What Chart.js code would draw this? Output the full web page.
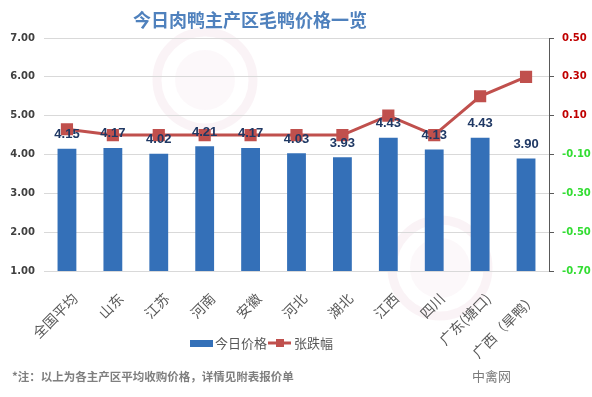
<!DOCTYPE html>
<html><head><meta charset="utf-8">
<script src="https://cdn.jsdelivr.net/npm/chart.js@4"></script>
<style>html,body{margin:0;padding:0;background:#fff}#wrap{width:592px;height:397px;position:relative}</style>
</head><body><div id="wrap"><canvas id="c" width="592" height="397"></canvas></div>
<script>
const categories = ['全国平均','山东','江苏','河南','安徽','河北','湖北','江西','四川','广东(塘口)','广西（旱鸭）'];
const prices = [4.15, 4.17, 4.02, 4.21, 4.17, 4.03, 3.93, 4.43, 4.13, 4.43, 3.90];
const changes = [0.03, 0.00, 0.00, 0.00, 0.00, 0.00, 0.00, 0.10, 0.00, 0.20, 0.30];
const seriesNames = ['今日价格', '张跌幅'];
const titleText = '今日肉鸭主产区毛鸭价格一览';
const noteText = '*注：以上为各主产区平均收购价格，详情见附表报价单';
const brandText = '中禽网';

const CJK = '"Noto Sans CJK SC", "Noto Sans", sans-serif';
const NUM = '"DejaVu Sans", Verdana, sans-serif';
const LAB = '"Liberation Sans", Arial, sans-serif';
const BLUE = '#3470b8';
const RED = '#c0504d';

const decor = {
  id: 'decor',
  beforeDraw(chart) {
    const ctx = chart.ctx;
    ctx.save();
    [[205, 80], [440, 268]].forEach(([cx, cy]) => {
      ctx.beginPath();
      ctx.arc(cx, cy, 48, 0, Math.PI * 2);
      ctx.strokeStyle = 'rgba(210,160,180,0.12)';
      ctx.lineWidth = 9;
      ctx.stroke();
      ctx.beginPath();
      ctx.arc(cx, cy, 30, 0, Math.PI * 2);
      ctx.fillStyle = 'rgba(210,160,180,0.07)';
      ctx.fill();
    });
    ctx.restore();
  },
  afterDraw(chart) {
    const ctx = chart.ctx;
    ctx.save();
    ctx.font = 'bold 18px ' + CJK;
    ctx.fillStyle = '#4f81bd';
    ctx.textAlign = 'center';
    ctx.textBaseline = 'middle';
    ctx.fillText(titleText, 250, 20);
    const meta = chart.getDatasetMeta(0);
    ctx.font = 'bold 13px ' + LAB;
    ctx.fillStyle = '#1f3864';
    meta.data.forEach((bar, i) => {
      ctx.fillText(prices[i].toFixed(2), bar.x, bar.y - 14);
    });
    const ly = 343;
    ctx.fillStyle = BLUE;
    ctx.fillRect(190, ly - 3, 23, 7);
    ctx.font = '13px ' + CJK;
    ctx.fillStyle = '#595959';
    ctx.textAlign = 'left';
    ctx.fillText(seriesNames[0], 215, ly);
    ctx.strokeStyle = RED;
    ctx.lineWidth = 3;
    ctx.beginPath(); ctx.moveTo(268, ly); ctx.lineTo(291, ly); ctx.stroke();
    ctx.fillStyle = RED;
    ctx.fillRect(276, ly - 4, 8, 8);
    ctx.fillStyle = '#595959';
    ctx.fillText(seriesNames[1], 294, ly);
    ctx.font = 'bold 11.5px ' + CJK;
    ctx.fillStyle = '#7f7f7f';
    ctx.fillText(noteText, 12, 377);
    ctx.font = '13px ' + CJK;
    ctx.fillStyle = '#7a7a7a';
    ctx.fillText(brandText, 472, 376);
    ctx.restore();
  }
};

new Chart(document.getElementById('c'), {
  type: 'bar',
  data: {
    labels: categories,
    datasets: [
      { type: 'bar', label: seriesNames[0], data: prices, yAxisID: 'y', backgroundColor: BLUE,
        barPercentage: 0.41, categoryPercentage: 1, order: 1 },
      { type: 'line', label: seriesNames[1], data: changes, yAxisID: 'y1', borderColor: RED,
        backgroundColor: RED, borderWidth: 3, pointStyle: 'rect', pointRadius: 6.5,
        pointBackgroundColor: RED, pointBorderColor: RED, tension: 0, order: 0 }
    ]
  },
  options: {
    responsive: false,
    animation: false,
    layout: { padding: { top: 38, left: 0, right: 0, bottom: 0 } },
    plugins: { legend: { display: false }, tooltip: { enabled: false }, title: { display: false } },
    scales: {
      x: {
        grid: { display: false },
        border: { color: '#d9d9d9' },
        ticks: { maxRotation: 45, minRotation: 45, color: '#595959', font: { family: CJK, size: 14 }, padding: 11, labelOffset: 8 },
        afterFit(s) { s.height = 126; }
      },
      y: {
        position: 'left', min: 1, max: 7,
        ticks: { stepSize: 1, callback: v => Number(v).toFixed(2), color: '#404040', font: { family: NUM, size: 10, weight: 'bold' }, padding: 9 },
        grid: { color: '#d9d9d9', drawTicks: false },
        border: { display: false },
        afterFit(s) { s.width = 44; }
      },
      y1: {
        position: 'right', min: -0.7, max: 0.5,
        ticks: { stepSize: 0.2, callback: v => Number(v).toFixed(2),
          color: c => (c.tick && c.tick.value < 0 ? '#33dd33' : '#c00000'),
          font: { family: NUM, size: 10, weight: 'bold' }, padding: 8 },
        grid: { drawOnChartArea: false, color: '#595959', tickLength: 5 },
        border: { color: '#595959' },
        afterFit(s) { s.width = 43; }
      }
    }
  },
  plugins: [decor]
});
</script>
</body></html>
